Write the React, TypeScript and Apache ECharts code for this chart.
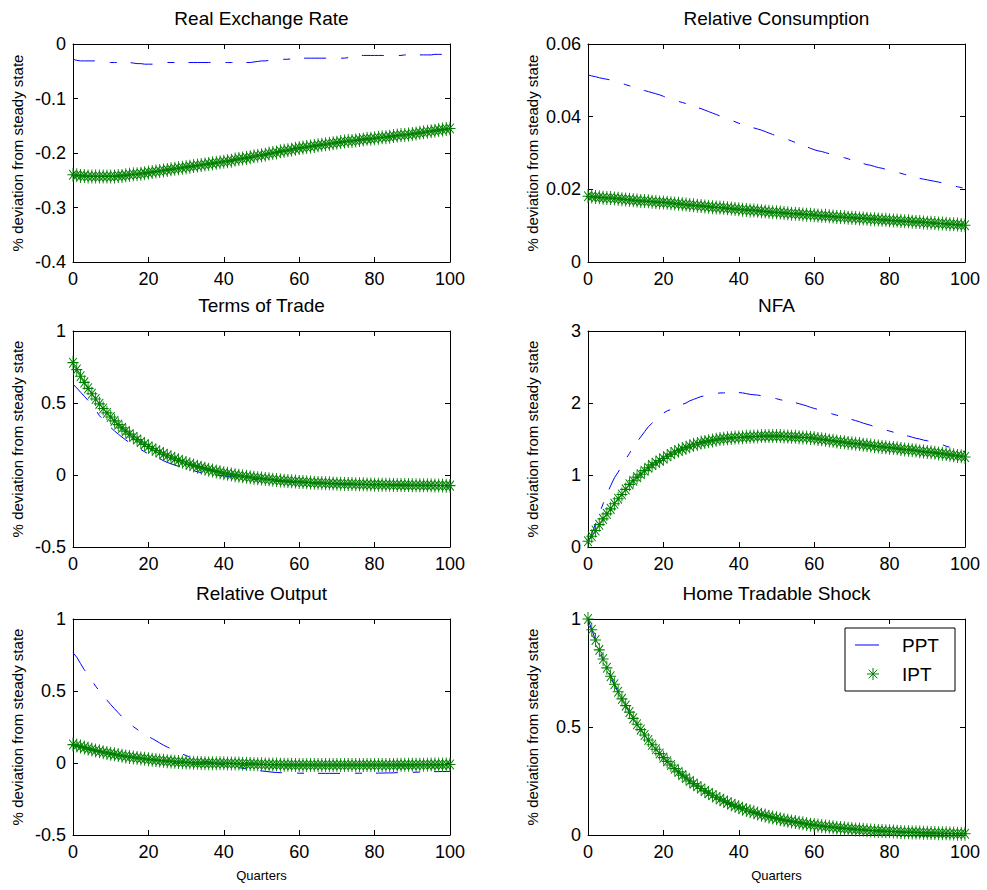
import React, { useEffect, useRef } from 'react';
import * as echarts from 'echarts';

// ---------- data ----------
const quarters: number[] = Array.from({ length: 101 }, (_, i) => i);

const panelTitles = ['Real Exchange Rate', 'Relative Consumption', 'Terms of Trade', 'NFA', 'Relative Output', 'Home Tradable Shock'];
const yMins = [-0.4, 0, -0.5, 0, -0.5, 0];
const yMaxs = [0, 0.06, 1, 3, 1, 1];
const yIntervals = [0.1, 0.02, 0.5, 1, 0.5, 0.5];
const xTickMin = 0;
const xTickMax = 100;
const xTickInterval = 20;
const seriesNames = ['PPT', 'IPT'];

const rerPPT = [
  -0.028, -0.030, -0.031, -0.031, -0.031, -0.031, -0.031, -0.032, -0.033, -0.034,
  -0.034, -0.034, -0.034, -0.034, -0.034, -0.034, -0.035, -0.036, -0.036, -0.037,
  -0.037, -0.037, -0.037, -0.036, -0.035, -0.034, -0.034, -0.034, -0.034, -0.034,
  -0.034, -0.034, -0.034, -0.034, -0.034, -0.034, -0.034, -0.034, -0.034, -0.034,
  -0.034, -0.034, -0.034, -0.034, -0.034, -0.034, -0.034, -0.034, -0.033, -0.032,
  -0.031, -0.031, -0.030, -0.030, -0.029, -0.029, -0.028, -0.028, -0.027, -0.027,
  -0.027, -0.026, -0.026, -0.026, -0.026, -0.026, -0.026, -0.026, -0.026, -0.026,
  -0.026, -0.026, -0.026, -0.025, -0.024, -0.022, -0.021, -0.021, -0.021, -0.021,
  -0.021, -0.021, -0.021, -0.021, -0.021, -0.021, -0.021, -0.021, -0.020, -0.020,
  -0.020, -0.020, -0.020, -0.020, -0.020, -0.020, -0.019, -0.019, -0.019, -0.019,
  -0.019,
];
const rerIPT = [
  -0.240, -0.241, -0.242, -0.242, -0.243, -0.243, -0.243, -0.243, -0.243, -0.243,
  -0.243, -0.243, -0.242, -0.242, -0.241, -0.240, -0.239, -0.239, -0.238, -0.237,
  -0.236, -0.235, -0.234, -0.233, -0.232, -0.231, -0.230, -0.229, -0.228, -0.227,
  -0.226, -0.225, -0.224, -0.223, -0.222, -0.221, -0.220, -0.219, -0.218, -0.217,
  -0.216, -0.215, -0.214, -0.212, -0.211, -0.210, -0.209, -0.208, -0.206, -0.205,
  -0.204, -0.203, -0.201, -0.200, -0.199, -0.197, -0.196, -0.195, -0.194, -0.192,
  -0.191, -0.190, -0.189, -0.188, -0.187, -0.186, -0.185, -0.184, -0.183, -0.182,
  -0.181, -0.180, -0.179, -0.178, -0.178, -0.177, -0.176, -0.175, -0.174, -0.174,
  -0.173, -0.172, -0.171, -0.171, -0.170, -0.169, -0.168, -0.167, -0.167, -0.166,
  -0.165, -0.164, -0.163, -0.162, -0.161, -0.160, -0.159, -0.158, -0.157, -0.156,
  -0.155,
];

const consPPT = [
  0.0515, 0.0512, 0.0510, 0.0507, 0.0505, 0.0503, 0.0501, 0.0498, 0.0495, 0.0492,
  0.0488, 0.0485, 0.0482, 0.0478, 0.0475, 0.0472, 0.0469, 0.0466, 0.0463, 0.0460,
  0.0456, 0.0452, 0.0449, 0.0446, 0.0442, 0.0439, 0.0436, 0.0433, 0.0429, 0.0425,
  0.0422, 0.0418, 0.0414, 0.0410, 0.0406, 0.0402, 0.0398, 0.0394, 0.0390, 0.0386,
  0.0382, 0.0378, 0.0375, 0.0372, 0.0369, 0.0366, 0.0363, 0.0359, 0.0355, 0.0351,
  0.0347, 0.0344, 0.0341, 0.0337, 0.0333, 0.0329, 0.0325, 0.0321, 0.0317, 0.0313,
  0.0309, 0.0306, 0.0304, 0.0301, 0.0298, 0.0296, 0.0293, 0.0290, 0.0287, 0.0284,
  0.0280, 0.0277, 0.0274, 0.0271, 0.0268, 0.0266, 0.0263, 0.0260, 0.0258, 0.0255,
  0.0252, 0.0250, 0.0247, 0.0244, 0.0241, 0.0239, 0.0236, 0.0233, 0.0230, 0.0228,
  0.0226, 0.0224, 0.0222, 0.0220, 0.0218, 0.0216, 0.0213, 0.0210, 0.0207, 0.0205,
  0.0203,
];
const consIPT = [
  0.0181, 0.0180, 0.0179, 0.0178, 0.0177, 0.0176, 0.0176, 0.0175, 0.0174, 0.0173,
  0.0172, 0.0171, 0.0170, 0.0169, 0.0168, 0.0168, 0.0167, 0.0166, 0.0165, 0.0164,
  0.0164, 0.0163, 0.0162, 0.0161, 0.0160, 0.0159, 0.0158, 0.0157, 0.0156, 0.0155,
  0.0154, 0.0153, 0.0152, 0.0151, 0.0150, 0.0150, 0.0149, 0.0148, 0.0147, 0.0146,
  0.0145, 0.0144, 0.0143, 0.0142, 0.0142, 0.0141, 0.0140, 0.0139, 0.0138, 0.0137,
  0.0137, 0.0136, 0.0135, 0.0134, 0.0133, 0.0133, 0.0132, 0.0131, 0.0130, 0.0130,
  0.0129, 0.0128, 0.0127, 0.0127, 0.0126, 0.0125, 0.0124, 0.0124, 0.0123, 0.0122,
  0.0122, 0.0121, 0.0120, 0.0120, 0.0119, 0.0118, 0.0118, 0.0117, 0.0116, 0.0116,
  0.0115, 0.0114, 0.0114, 0.0113, 0.0112, 0.0112, 0.0111, 0.0110, 0.0110, 0.0109,
  0.0108, 0.0108, 0.0107, 0.0106, 0.0106, 0.0105, 0.0104, 0.0104, 0.0103, 0.0102,
  0.0101,
];

const totPPT = [
  0.630, 0.605, 0.575, 0.547, 0.518, 0.484, 0.455, 0.412, 0.385, 0.356,
  0.330, 0.306, 0.284, 0.263, 0.243, 0.225, 0.208, 0.192, 0.177, 0.161,
  0.146, 0.136, 0.127, 0.113, 0.099, 0.087, 0.078, 0.069, 0.060, 0.051,
  0.043, 0.036, 0.029, 0.023, 0.016, 0.011, 0.007, 0.003, 0.000, -0.003,
  -0.006, -0.009, -0.011, -0.014, -0.018, -0.022, -0.025, -0.028, -0.030, -0.033,
  -0.035, -0.037, -0.039, -0.041, -0.043, -0.045, -0.047, -0.049, -0.050, -0.052,
  -0.053, -0.054, -0.055, -0.056, -0.057, -0.059, -0.060, -0.060, -0.061, -0.062,
  -0.063, -0.064, -0.064, -0.065, -0.066, -0.066, -0.067, -0.067, -0.068, -0.068,
  -0.069, -0.069, -0.070, -0.070, -0.071, -0.071, -0.071, -0.072, -0.072, -0.072,
  -0.073, -0.073, -0.073, -0.074, -0.074, -0.074, -0.075, -0.075, -0.075, -0.076,
  -0.076,
];
const totIPT = [
  0.780, 0.732, 0.686, 0.643, 0.602, 0.564, 0.528, 0.494, 0.462, 0.431,
  0.403, 0.376, 0.350, 0.327, 0.305, 0.284, 0.264, 0.246, 0.229, 0.213,
  0.198, 0.183, 0.170, 0.158, 0.145, 0.134, 0.123, 0.112, 0.102, 0.092,
  0.083, 0.074, 0.066, 0.058, 0.051, 0.044, 0.037, 0.031, 0.025, 0.019,
  0.013, 0.008, 0.003, -0.001, -0.005, -0.009, -0.013, -0.016, -0.019, -0.022,
  -0.025, -0.028, -0.030, -0.033, -0.035, -0.038, -0.040, -0.042, -0.044, -0.046,
  -0.048, -0.049, -0.051, -0.052, -0.054, -0.055, -0.056, -0.057, -0.058, -0.059,
  -0.060, -0.061, -0.062, -0.062, -0.063, -0.064, -0.064, -0.065, -0.066, -0.066,
  -0.067, -0.067, -0.068, -0.068, -0.068, -0.069, -0.069, -0.070, -0.070, -0.070,
  -0.071, -0.071, -0.071, -0.072, -0.072, -0.072, -0.073, -0.073, -0.073, -0.074,
  -0.074,
];

const nfaPPT = [
  0.05, 0.19, 0.32, 0.46, 0.60, 0.73, 0.85, 0.96, 1.04, 1.13,
  1.22, 1.30, 1.39, 1.46, 1.53, 1.60, 1.67, 1.72, 1.77, 1.82,
  1.86, 1.89, 1.91, 1.94, 1.96, 1.98, 2.00, 2.03, 2.05, 2.07,
  2.09, 2.10, 2.11, 2.12, 2.13, 2.14, 2.14, 2.145, 2.15, 2.15,
  2.145, 2.14, 2.13, 2.12, 2.115, 2.11, 2.10, 2.09, 2.08, 2.07,
  2.06, 2.045, 2.035, 2.025, 2.015, 2.005, 1.99, 1.975, 1.96, 1.94,
  1.925, 1.91, 1.89, 1.875, 1.86, 1.845, 1.83, 1.815, 1.80, 1.785,
  1.77, 1.755, 1.74, 1.72, 1.705, 1.69, 1.67, 1.655, 1.64, 1.625,
  1.61, 1.595, 1.58, 1.565, 1.55, 1.54, 1.525, 1.51, 1.50, 1.485,
  1.475, 1.46, 1.45, 1.435, 1.42, 1.40, 1.385, 1.37, 1.355, 1.34,
  1.32,
];
const nfaIPT = [
  0.08, 0.15, 0.23, 0.31, 0.39, 0.46, 0.53, 0.60, 0.67, 0.73,
  0.80, 0.87, 0.92, 0.97, 1.01, 1.06, 1.10, 1.14, 1.17, 1.20,
  1.23, 1.26, 1.29, 1.32, 1.34, 1.36, 1.38, 1.40, 1.42, 1.43,
  1.45, 1.46, 1.47, 1.48, 1.49, 1.50, 1.505, 1.51, 1.515, 1.52,
  1.52, 1.525, 1.53, 1.53, 1.535, 1.535, 1.54, 1.54, 1.54, 1.54,
  1.54, 1.54, 1.535, 1.535, 1.53, 1.53, 1.525, 1.52, 1.52, 1.515,
  1.51, 1.50, 1.495, 1.49, 1.48, 1.475, 1.465, 1.46, 1.455, 1.445,
  1.44, 1.435, 1.43, 1.42, 1.415, 1.41, 1.40, 1.395, 1.39, 1.385,
  1.38, 1.375, 1.37, 1.36, 1.355, 1.35, 1.345, 1.34, 1.33, 1.325,
  1.32, 1.315, 1.31, 1.30, 1.295, 1.29, 1.28, 1.275, 1.265, 1.26,
  1.25,
];

const outPPT = [
  0.765, 0.735, 0.690, 0.648, 0.614, 0.575, 0.533, 0.500, 0.468, 0.437,
  0.406, 0.377, 0.349, 0.321, 0.292, 0.272, 0.253, 0.234, 0.215, 0.196,
  0.183, 0.170, 0.155, 0.139, 0.124, 0.111, 0.098, 0.085, 0.072, 0.062,
  0.052, 0.040, 0.031, 0.024, 0.018, 0.012, 0.007, 0.002, -0.004, -0.009,
  -0.014, -0.019, -0.024, -0.028, -0.032, -0.037, -0.041, -0.045, -0.049, -0.052,
  -0.055, -0.058, -0.061, -0.064, -0.066, -0.067, -0.068, -0.069, -0.070, -0.070,
  -0.071, -0.071, -0.071, -0.072, -0.072, -0.072, -0.072, -0.072, -0.072, -0.072,
  -0.072, -0.072, -0.072, -0.072, -0.072, -0.071, -0.071, -0.071, -0.071, -0.071,
  -0.071, -0.070, -0.070, -0.069, -0.069, -0.068, -0.067, -0.066, -0.066, -0.065,
  -0.065, -0.064, -0.063, -0.063, -0.062, -0.061, -0.060, -0.060, -0.059, -0.059,
  -0.058,
];
const outIPT = [
  0.128, 0.121, 0.114, 0.107, 0.100, 0.093, 0.087, 0.081, 0.075, 0.070,
  0.065, 0.060, 0.055, 0.050, 0.046, 0.042, 0.039, 0.035, 0.032, 0.029,
  0.026, 0.023, 0.020, 0.017, 0.015, 0.013, 0.011, 0.009, 0.007, 0.006,
  0.004, 0.003, 0.002, 0.001, 0.000, -0.001, -0.001, -0.002, -0.002, -0.002,
  -0.002, -0.003, -0.003, -0.004, -0.004, -0.005, -0.006, -0.007, -0.008, -0.009,
  -0.009, -0.010, -0.010, -0.011, -0.011, -0.012, -0.012, -0.013, -0.013, -0.014,
  -0.014, -0.014, -0.014, -0.014, -0.014, -0.014, -0.014, -0.014, -0.014, -0.014,
  -0.014, -0.014, -0.014, -0.014, -0.014, -0.014, -0.014, -0.014, -0.014, -0.014,
  -0.014, -0.014, -0.014, -0.014, -0.014, -0.014, -0.013, -0.013, -0.013, -0.013,
  -0.013, -0.012, -0.012, -0.012, -0.012, -0.011, -0.011, -0.011, -0.011, -0.010,
  -0.010,
];

const shockPPT = [
  1.000, 0.950, 0.903, 0.857, 0.815, 0.774, 0.735, 0.698, 0.663, 0.630,
  0.599, 0.569, 0.540, 0.513, 0.488, 0.463, 0.440, 0.418, 0.397, 0.377,
  0.358, 0.341, 0.324, 0.307, 0.292, 0.277, 0.264, 0.250, 0.238, 0.226,
  0.215, 0.204, 0.194, 0.184, 0.175, 0.166, 0.158, 0.150, 0.142, 0.135,
  0.129, 0.122, 0.116, 0.110, 0.105, 0.099, 0.094, 0.090, 0.085, 0.081,
  0.077, 0.073, 0.069, 0.066, 0.063, 0.060, 0.057, 0.054, 0.051, 0.048,
  0.046, 0.044, 0.042, 0.039, 0.038, 0.036, 0.034, 0.032, 0.031, 0.029,
  0.028, 0.026, 0.025, 0.024, 0.022, 0.021, 0.020, 0.019, 0.018, 0.017,
  0.017, 0.016, 0.015, 0.014, 0.013, 0.013, 0.012, 0.012, 0.011, 0.010,
  0.010, 0.009, 0.009, 0.008, 0.008, 0.008, 0.007, 0.007, 0.006, 0.006,
  0.006,
];
const shockIPT = [
  1.000, 0.950, 0.903, 0.857, 0.815, 0.774, 0.735, 0.698, 0.663, 0.630,
  0.599, 0.569, 0.540, 0.513, 0.488, 0.463, 0.440, 0.418, 0.397, 0.377,
  0.358, 0.341, 0.324, 0.307, 0.292, 0.277, 0.264, 0.250, 0.238, 0.226,
  0.215, 0.204, 0.194, 0.184, 0.175, 0.166, 0.158, 0.150, 0.142, 0.135,
  0.129, 0.122, 0.116, 0.110, 0.105, 0.099, 0.094, 0.090, 0.085, 0.081,
  0.077, 0.073, 0.069, 0.066, 0.063, 0.060, 0.057, 0.054, 0.051, 0.048,
  0.046, 0.044, 0.042, 0.039, 0.038, 0.036, 0.034, 0.032, 0.031, 0.029,
  0.028, 0.026, 0.025, 0.024, 0.022, 0.021, 0.020, 0.019, 0.018, 0.017,
  0.017, 0.016, 0.015, 0.014, 0.013, 0.013, 0.012, 0.012, 0.011, 0.010,
  0.010, 0.009, 0.009, 0.008, 0.008, 0.008, 0.007, 0.007, 0.006, 0.006,
  0.006,
];

const pptSeries = [rerPPT, consPPT, totPPT, nfaPPT, outPPT, shockPPT];
const iptSeries = [rerIPT, consIPT, totIPT, nfaIPT, outIPT, shockIPT];

const yAxisTitle = '% deviation from steady state';
const xAxisTitle = 'Quarters';

// ---------- styling / layout ----------
const FONT = '"Liberation Sans", Arial, Helvetica, sans-serif';
const BLUE = '#0000ff';
const GREEN = '#008000';
const colLeft = [73, 588];
const plotW = 377;
const rowTop = [44, 331, 619];
const rowH = [218, 216, 216];
const STAR = 'path://M5 0L5 10M0 5L10 5M1.5 1.5L8.5 8.5M1.5 8.5L8.5 1.5';

const fmt = (v: number) => String(parseFloat(v.toFixed(4)));

export default function App() {
  const ref = useRef<HTMLDivElement>(null);

  useEffect(() => {
    document.body.style.margin = '0';
    const chart = echarts.init(ref.current as HTMLDivElement, null, { renderer: 'svg' });

    const grids: any[] = [];
    const xAxes: any[] = [];
    const yAxes: any[] = [];
    const series: any[] = [];
    const graphics: any[] = [];

    const axisLine = { show: true, onZero: false, lineStyle: { color: '#000', width: 1 } };
    const axisTick = { show: true, inside: true, length: 5, lineStyle: { color: '#000', width: 1 } };

    for (let g = 0; g < 6; g++) {
      const col = g % 2;
      const row = Math.floor(g / 2);
      const left = colLeft[col];
      const top = rowTop[row];
      const h = rowH[row];
      grids.push({ left, top, width: plotW, height: h, containLabel: false });

      const xBase = {
        type: 'value', gridIndex: g, min: xTickMin, max: xTickMax, interval: xTickInterval,
        axisLine, axisTick, splitLine: { show: false },
      };
      xAxes.push({
        ...xBase, position: 'bottom',
        axisLabel: { show: true, color: '#000', fontFamily: FONT, fontSize: 18, margin: 8 },
        name: row === 2 ? xAxisTitle : '',
        nameLocation: 'middle', nameGap: 34,
        nameTextStyle: { color: '#000', fontFamily: FONT, fontSize: 13 },
      });
      xAxes.push({ ...xBase, position: 'top', axisLabel: { show: false } });

      const yBase = {
        type: 'value', gridIndex: g, min: yMins[g], max: yMaxs[g], interval: yIntervals[g],
        axisLine, axisTick, splitLine: { show: false },
      };
      yAxes.push({
        ...yBase, position: 'left',
        axisLabel: { show: true, color: '#000', fontFamily: FONT, fontSize: 18, margin: 7, formatter: fmt },
        name: yAxisTitle, nameLocation: 'middle', nameGap: 48, nameRotate: 90,
        nameTextStyle: { color: '#000', fontFamily: FONT, fontSize: 15 },
      });
      yAxes.push({ ...yBase, position: 'right', axisLabel: { show: false } });

      series.push({
        name: seriesNames[0], type: 'line', xAxisIndex: 2 * g, yAxisIndex: 2 * g,
        data: quarters.map((q, i) => [q, pptSeries[g][i]]),
        showSymbol: false, symbol: 'none', silent: true, z: 2,
        lineStyle: { color: BLUE, width: 1, type: [22, 15, 7, 14] },
      });
      series.push({
        name: seriesNames[1], type: 'line', xAxisIndex: 2 * g, yAxisIndex: 2 * g,
        data: quarters.map((q, i) => [q, iptSeries[g][i]]),
        showSymbol: true, showAllSymbol: true, symbol: STAR, symbolSize: [11, 14], silent: true, z: 3,
        lineStyle: { opacity: 0, width: 0 },
        itemStyle: { color: 'rgba(0,0,0,0)', borderColor: GREEN, borderWidth: 1 },
      });

      graphics.push({
        type: 'text', x: left + plotW / 2, y: top - 26, silent: true,
        style: {
          text: panelTitles[g], fill: '#000', fontFamily: FONT, fontSize: 19,
          align: 'center', verticalAlign: 'middle', textAlign: 'center', textVerticalAlign: 'middle',
        },
      });
    }

    // legend (drawn in the Home Tradable Shock panel)
    const lx = 845, ly = 628;
    const sx = 873, sy = 674, sr = 6, sd = 4.3;
    graphics.push({
      type: 'group', silent: true, z: 100,
      children: [
        { type: 'rect', shape: { x: lx, y: ly, width: 110, height: 63 }, style: { fill: '#fff', stroke: '#000', lineWidth: 1 } },
        { type: 'line', shape: { x1: 855, y1: 645, x2: 879, y2: 645 }, style: { stroke: BLUE, lineWidth: 1 } },
        { type: 'line', shape: { x1: sx, y1: sy - sr, x2: sx, y2: sy + sr }, style: { stroke: GREEN, lineWidth: 1 } },
        { type: 'line', shape: { x1: sx - sr, y1: sy, x2: sx + sr, y2: sy }, style: { stroke: GREEN, lineWidth: 1 } },
        { type: 'line', shape: { x1: sx - sd, y1: sy - sd, x2: sx + sd, y2: sy + sd }, style: { stroke: GREEN, lineWidth: 1 } },
        { type: 'line', shape: { x1: sx - sd, y1: sy + sd, x2: sx + sd, y2: sy - sd }, style: { stroke: GREEN, lineWidth: 1 } },
        {
          type: 'text', x: 902, y: 645,
          style: { text: seriesNames[0], fill: '#000', fontFamily: FONT, fontSize: 19, align: 'left', verticalAlign: 'middle', textAlign: 'left', textVerticalAlign: 'middle' },
        },
        {
          type: 'text', x: 902, y: 674,
          style: { text: seriesNames[1], fill: '#000', fontFamily: FONT, fontSize: 19, align: 'left', verticalAlign: 'middle', textAlign: 'left', textVerticalAlign: 'middle' },
        },
      ],
    });

    chart.setOption({
      animation: false,
      backgroundColor: '#fff',
      grid: grids,
      xAxis: xAxes,
      yAxis: yAxes,
      series,
      graphic: graphics,
    });

    return () => chart.dispose();
  }, []);

  return <div ref={ref} style={{ width: 987, height: 890 }} />;
}
